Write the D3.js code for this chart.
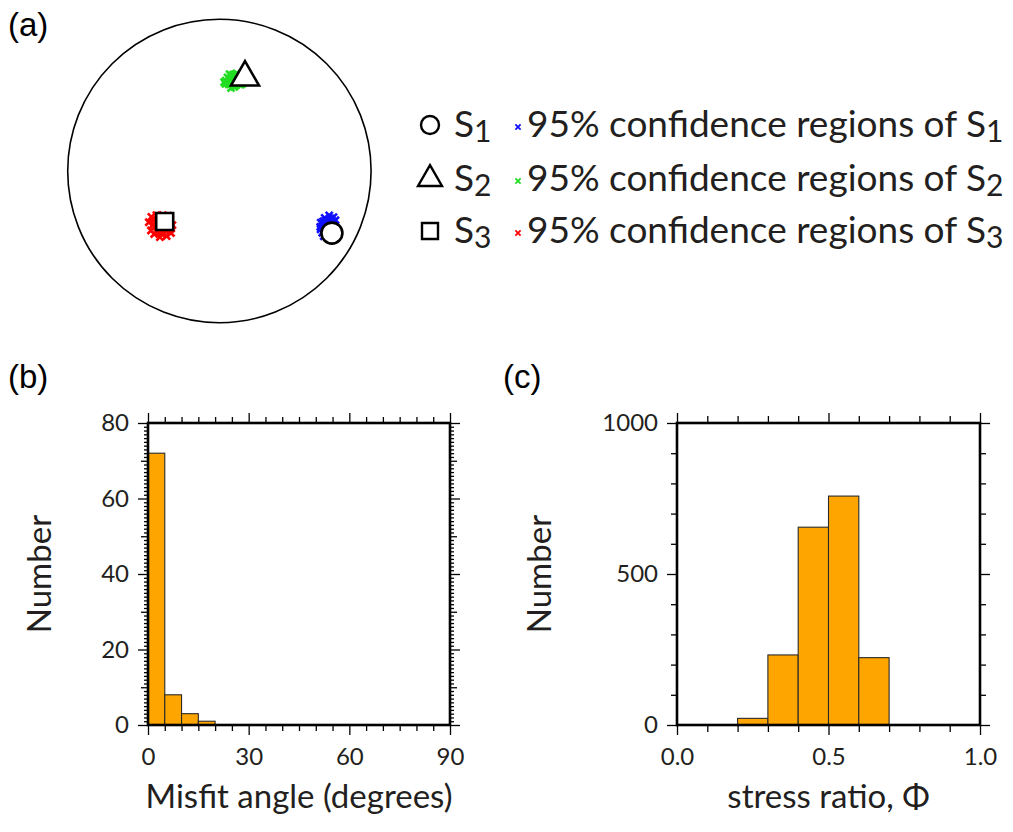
<!DOCTYPE html>
<html><head><meta charset="utf-8">
<script src="https://cdn.jsdelivr.net/npm/d3@7"></script>
<style>body{margin:0;background:#fff} svg{display:block}</style>
</head><body><svg id="c" width="1013" height="832"></svg>
<script>
// ---------- DATA ----------
const panelLabels = ["(a)", "(b)", "(c)"];
const stressNames = ["S", "S", "S"];
const stressSubs = ["1", "2", "3"];
const stressTrend = [118.9, 15.3, 227.3];
const stressPlunge = [16.4, 36.2, 49.4];
const stressSymbols = ["circle", "triangle", "square"];
const confColors = ["#1010ff", "#22dd22", "#ff0000"];
const confLabel = "95% confidence regions of ";
// bootstrap confidence points [trend, plunge]
const conf1 = [[117,21],[115,20],[119,22],[116,23],[114,22],[118,24],[113,21],[120,20],[117,18],[115,17],[112,23],[116,25],[119,25],[114,19],[121,22],[118,19],[113,18],[117,26],[115,24],[120,24],[116,19],[122,20],[119,17],[114,25],[112,20]];
const conf2 = [[10,39],[8,38],[12,40],[6,39],[4,40],[14,38],[9,41],[11,37],[7,42],[13,41],[5,38],[3,41],[15,40],[10,43],[8,36],[12,36],[16,38],[6,42],[9,40],[11,42],[7,37],[13,38],[4,42],[10,35],[14,41],[6,36],[8,44]];
const conf3 = [[227,46],[224,45],[230,47],[221,46],[233,45],[226,42],[228,50],[223,49],[231,43],[219,44],[235,48],[225,52],[229,40],[222,41],[232,51],[220,49],[227,44],[225,48],[234,42],[218,47],[229,53],[223,43],[231,49],[226,40],[236,45],[221,51]];

const misfitBinEdges = [0,5,10,15,20,25,30,35,40,45,50,55,60,65,70,75,80,85];
const misfitCounts   = [72,8,3,1,0,0,0,0,0,0,0,0,0,0,0,0,0,0];
const misfitXTicks = [0,30,60,90];
const misfitYTicks = [0,20,40,60,80];

const ratioBinEdges = [0.0,0.1,0.2,0.3,0.4,0.5,0.6,0.7,0.8,0.9];
const ratioCounts   = [0,0,22,232,655,758,223,0,0,0];
const ratioXTicks = [0.0,0.5,1.0];
const ratioYTicks = [0,500,1000];

const titleB = "Misfit angle (degrees)";
const titleC = "stress ratio, \u03A6";
const yTitle = "Number";

// ---------- STYLE ----------
const TXT = "#231f20";
const FONT = "Lato, 'Open Sans', sans-serif";
const svg = d3.select("#c");

// panel labels
[[8,36],[8,388],[503,388]].forEach((p,i)=>{
  svg.append("text").attr("x",p[0]).attr("y",p[1]).text(panelLabels[i])
    .attr("font-family","'Liberation Sans', Arial, sans-serif").attr("font-size",33).attr("fill","#000");
});

// ---------- (a) stereonet ----------
const cx = 219.4, cy = 171, R = 151.7;
const sx = d3.scaleLinear().domain([-1,1]).range([cx-R, cx+R]);
const sy = d3.scaleLinear().domain([-1,1]).range([cy+R, cy-R]);
function proj(t, p){
  const r = Math.SQRT2*Math.sin((90-p)/2*Math.PI/180);
  const a = t*Math.PI/180;
  return [sx(r*Math.sin(a)), sy(r*Math.cos(a))];
}
svg.append("circle").attr("cx",sx(0)).attr("cy",sy(0)).attr("r",sx(1)-sx(0))
  .attr("fill","none").attr("stroke","#000").attr("stroke-width",1.6);

function xMark(g, x, y, s, color, w){
  g.append("path").attr("d",`M${x-s},${y-s}L${x+s},${y+s}M${x-s},${y+s}L${x+s},${y-s}`)
    .attr("stroke",color).attr("stroke-width",w).attr("fill","none");
}
const confSets = [conf1, conf2, conf3];
const gConf = svg.append("g");
confSets.forEach((set,i)=>{
  set.forEach(d=>{ const [x,y]=proj(d[0],d[1]); xMark(gConf,x,y,3.5,confColors[i],2.6); });
});
const symType = {circle:d3.symbolCircle, triangle:d3.symbolTriangle, square:d3.symbolSquare};
const mapSizes = {circle:Math.PI*10.5*10.5, triangle:Math.sqrt(3)/4*28*28, square:17*17};
stressTrend.forEach((t,i)=>{
  const [x,y]=proj(t, stressPlunge[i]);
  svg.append("path").attr("transform",`translate(${x},${y})`)
    .attr("d", d3.symbol().type(symType[stressSymbols[i]]).size(mapSizes[stressSymbols[i]])())
    .attr("fill","#fff").attr("stroke","#000").attr("stroke-width",2.6);
});

// legend
const legSizes = {circle:Math.PI*9*9, triangle:Math.sqrt(3)/4*24*24, square:16*16};
const legY = [125, 179, 231];
legY.forEach((y,i)=>{
  svg.append("path").attr("transform",`translate(430,${y})`)
    .attr("d", d3.symbol().type(symType[stressSymbols[i]]).size(legSizes[stressSymbols[i]])())
    .attr("fill","#fff").attr("stroke","#000").attr("stroke-width",2.4);
  const t1 = svg.append("text").attr("x",454).attr("y",y+12).attr("font-family",FONT)
    .attr("font-size",37).attr("fill",TXT);
  t1.append("tspan").text(stressNames[i]);
  t1.append("tspan").attr("dy",5).attr("font-size",30).text(stressSubs[i]);
  xMark(svg, 518, y+2, 2.6, confColors[i], 1.8);
  const t2 = svg.append("text").attr("x",527).attr("y",y+12).attr("font-family",FONT)
    .attr("font-size",37).attr("fill",TXT);
  t2.append("tspan").text(confLabel + stressNames[i]);
  t2.append("tspan").attr("dy",5).attr("font-size",30).text(stressSubs[i]);
});

// ---------- histograms ----------
function hist(opt){
  const x = d3.scaleLinear().domain(opt.xDom).range(opt.xr);
  const y = d3.scaleLinear().domain(opt.yDom).range([725,423]);
  const g = svg.append("g");
  g.selectAll("rect.bar").data(opt.edges.map((e,i)=>({e, c:opt.counts[i]})).filter(d=>d.c>0))
    .join("rect").attr("class","bar")
    .attr("x",d=>x(d.e)).attr("width",d=>x(d.e+opt.bw)-x(d.e))
    .attr("y",d=>y(d.c)).attr("height",d=>y(0)-y(d.c))
    .attr("fill","#ffa500").attr("stroke","#2a2a2a").attr("stroke-width",1.1);

  function ax(axisFn, scale, vals, size, fmt, pad, tr){
    const a = axisFn(scale).tickValues(vals).tickSize(size).tickPadding(pad||0);
    a.tickFormat(fmt ? fmt : ()=>"");
    const gg = g.append("g").attr("transform",tr).call(a);
    gg.select(".domain").remove();
    gg.selectAll("line").attr("stroke","#000").attr("stroke-width",1.3);
    gg.selectAll("text").attr("font-family",FONT).attr("font-size",24).attr("fill",TXT);
    return gg;
  }
  const L = `translate(${opt.xr[0]},0)`, Rt = `translate(${opt.xr[1]},0)`;
  const B = `translate(0,725)`, T = `translate(0,423)`;
  opt.yLevels.forEach((lv,k)=>{
    ax(d3.axisLeft, y, lv.v, lv.s, k===0 ? opt.yfmt : null, 9, L);
    ax(d3.axisRight, y, lv.v, lv.s, null, 0, Rt);
  });
  opt.xLevels.forEach((lv,k)=>{
    ax(d3.axisBottom, x, lv.v, lv.s, k===0 ? opt.xfmt : null, 13, B);
    ax(d3.axisTop, x, lv.v, lv.s, null, 0, T);
  });
  g.append("rect").attr("x",opt.xr[0]).attr("y",423).attr("width",opt.xr[1]-opt.xr[0]).attr("height",302)
    .attr("fill","none").attr("stroke","#000").attr("stroke-width",2.6);
  g.append("text").attr("x",(opt.xr[0]+opt.xr[1])/2).attr("y",808).attr("text-anchor","middle")
    .attr("font-family",FONT).attr("font-size",33).attr("fill",TXT).text(opt.title);
  g.append("text").attr("transform",`translate(${opt.yTitleX},574) rotate(-90)`).attr("text-anchor","middle")
    .attr("font-family",FONT).attr("font-size",33).attr("fill",TXT).text(yTitle);
}

hist({
  xDom:[0,90], yDom:[0,80], xr:[148,450], edges:misfitBinEdges, counts:misfitCounts, bw:5,
  xfmt:d3.format("d"), yfmt:d3.format("d"), title:titleB, yTitleX:51,
  yLevels:[{v:misfitYTicks,s:10},{v:[10,30,50,70],s:7},{v:d3.range(1,80).filter(v=>v%10!==0),s:4}],
  xLevels:[{v:misfitXTicks,s:10},{v:misfitBinEdges.filter(v=>v%30!==0),s:6}]
});
hist({
  xDom:[0,1], yDom:[0,1000], xr:[677,980], edges:ratioBinEdges, counts:ratioCounts, bw:0.1,
  xfmt:d3.format(".1f"), yfmt:d3.format("d"), title:titleC, yTitleX:551,
  yLevels:[{v:ratioYTicks,s:10},{v:[100,200,300,400,600,700,800,900],s:6}],
  xLevels:[{v:ratioXTicks,s:10},{v:[0.1,0.2,0.3,0.4,0.6,0.7,0.8,0.9],s:7}]
});
</script></body></html>
